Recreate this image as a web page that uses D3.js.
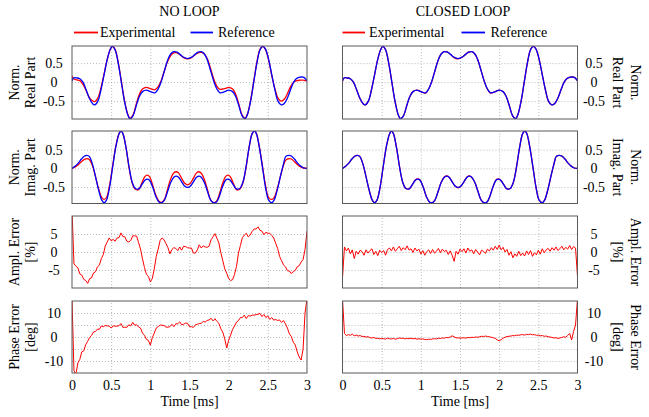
<!DOCTYPE html>
<html><head><meta charset="utf-8">
<script src="https://cdn.jsdelivr.net/npm/d3@7"></script>
<style>
html,body{margin:0;padding:0;background:#fff;}
svg{display:block;font-family:"Liberation Serif","Times New Roman",serif;}
</style></head><body>
<svg id="c" width="649" height="417"></svg>
<script>
// ---------------- DATA ----------------
const columnTitles = ["NO LOOP", "CLOSED LOOP"];
const legendLabels = ["Experimental", "Reference"];
const xTicks = [0, 0.5, 1, 1.5, 2, 2.5, 3];
const xLabel = "Time [ms]";

// Normalised real part (time in ms)
const tRe = [0,0.02,0.06,0.10,0.14,0.18,0.22,0.26,0.29,0.33,0.37,0.41,0.45,0.49,0.515,0.55,0.59,0.63,0.67,0.71,0.74,0.78,0.82,0.86,0.90,0.95,1.00,1.06,1.10,1.14,1.18,1.22,1.26,1.30,1.34,1.38,1.42,1.475,1.53,1.57,1.61,1.65,1.69,1.73,1.77,1.81,1.85,1.89,1.95,2.00,2.05,2.09,2.13,2.17,2.21,2.24,2.28,2.32,2.36,2.40,2.435,2.47,2.51,2.55,2.59,2.63,2.67,2.71,2.75,2.79,2.83,2.87,2.91,2.95,2.98,3.00];
const refRe = [0.03,0.11,0.11,0.09,0.00,-0.20,-0.42,-0.56,-0.60,-0.50,-0.20,0.20,0.60,0.87,0.94,0.85,0.50,0.0,-0.50,-0.85,-0.96,-0.88,-0.62,-0.38,-0.25,-0.21,-0.25,-0.28,-0.18,0.02,0.30,0.57,0.74,0.80,0.79,0.73,0.66,0.62,0.66,0.73,0.79,0.80,0.74,0.57,0.30,0.02,-0.18,-0.28,-0.25,-0.21,-0.25,-0.38,-0.62,-0.88,-0.96,-0.85,-0.50,0.0,0.50,0.85,0.94,0.87,0.60,0.20,-0.20,-0.50,-0.60,-0.56,-0.42,-0.20,0.00,0.10,0.13,0.13,0.09,0.03];
const expReOpen = [0.17,0.09,0.06,0.04,-0.06,-0.22,-0.40,-0.49,-0.51,-0.42,-0.15,0.22,0.60,0.87,0.94,0.86,0.52,0.02,-0.48,-0.83,-0.95,-0.86,-0.58,-0.32,-0.18,-0.14,-0.17,-0.20,-0.12,0.05,0.30,0.54,0.70,0.77,0.77,0.72,0.65,0.61,0.65,0.72,0.77,0.78,0.74,0.60,0.35,0.08,-0.11,-0.19,-0.17,-0.14,-0.18,-0.32,-0.58,-0.86,-0.95,-0.84,-0.48,0.02,0.52,0.86,0.94,0.86,0.58,0.18,-0.17,-0.42,-0.50,-0.45,-0.30,-0.12,0.00,0.04,0.05,0.05,0.04,0.03];
// closed loop: experimental coincides with the reference to within the line width
const expReClosed = [0.03,0.11,0.11,0.09,0.00,-0.20,-0.42,-0.56,-0.60,-0.50,-0.20,0.20,0.60,0.87,0.94,0.85,0.50,0.0,-0.50,-0.85,-0.96,-0.88,-0.62,-0.38,-0.25,-0.21,-0.25,-0.29,-0.18,0.02,0.30,0.57,0.74,0.80,0.79,0.73,0.65,0.61,0.66,0.73,0.79,0.80,0.74,0.57,0.30,0.02,-0.18,-0.29,-0.25,-0.21,-0.25,-0.38,-0.62,-0.88,-0.96,-0.85,-0.50,0.0,0.50,0.85,0.94,0.87,0.60,0.20,-0.20,-0.50,-0.60,-0.56,-0.42,-0.20,0.00,0.10,0.13,0.13,0.09,0.03];

// Normalised imaginary part
const tIm = [0,0.04,0.08,0.12,0.16,0.19,0.22,0.26,0.30,0.34,0.38,0.41,0.44,0.48,0.52,0.56,0.60,0.625,0.65,0.69,0.73,0.77,0.81,0.85,0.89,0.93,0.96,0.99,1.03,1.07,1.11,1.145,1.18,1.22,1.26,1.30,1.33,1.36,1.40,1.44,1.475,1.51,1.55,1.59,1.62,1.65,1.69,1.73,1.77,1.81,1.845,1.88,1.92,1.96,1.99,2.02,2.06,2.10,2.14,2.18,2.22,2.26,2.30,2.33,2.355,2.39,2.43,2.47,2.51,2.55,2.58,2.62,2.66,2.70,2.73,2.77,2.80,2.84,2.88,2.92,2.96,3.00];
const refIm = [0.0,0.06,0.14,0.25,0.33,0.35,0.32,0.12,-0.22,-0.58,-0.85,-0.92,-0.85,-0.50,0.05,0.58,0.92,1.0,0.93,0.55,0.02,-0.38,-0.54,-0.55,-0.44,-0.32,-0.29,-0.32,-0.50,-0.75,-0.90,-0.92,-0.85,-0.62,-0.38,-0.24,-0.21,-0.24,-0.36,-0.48,-0.51,-0.48,-0.36,-0.24,-0.21,-0.24,-0.38,-0.62,-0.85,-0.92,-0.90,-0.75,-0.50,-0.32,-0.29,-0.32,-0.44,-0.55,-0.54,-0.38,0.02,0.55,0.93,1.0,0.92,0.58,0.05,-0.50,-0.85,-0.92,-0.85,-0.58,-0.22,0.12,0.32,0.35,0.33,0.25,0.14,0.06,0.01,0.0];
const expImOpen = [0.0,0.04,0.10,0.18,0.24,0.26,0.24,0.08,-0.22,-0.55,-0.78,-0.83,-0.78,-0.45,0.08,0.60,0.93,1.0,0.93,0.55,0.0,-0.40,-0.56,-0.57,-0.40,-0.22,-0.18,-0.22,-0.45,-0.72,-0.88,-0.91,-0.83,-0.56,-0.28,-0.12,-0.09,-0.12,-0.27,-0.40,-0.44,-0.40,-0.26,-0.12,-0.09,-0.13,-0.30,-0.58,-0.84,-0.92,-0.88,-0.70,-0.42,-0.22,-0.18,-0.22,-0.40,-0.57,-0.56,-0.40,0.0,0.55,0.93,1.0,0.93,0.60,0.08,-0.45,-0.78,-0.83,-0.78,-0.55,-0.22,0.08,0.22,0.26,0.25,0.18,0.10,0.04,0.01,0.0];
const expImClosed = [0.0,0.06,0.14,0.25,0.33,0.35,0.32,0.12,-0.22,-0.58,-0.85,-0.92,-0.85,-0.50,0.05,0.58,0.92,1.0,0.93,0.55,0.02,-0.38,-0.54,-0.55,-0.44,-0.31,-0.28,-0.31,-0.50,-0.75,-0.90,-0.92,-0.85,-0.62,-0.37,-0.23,-0.20,-0.23,-0.36,-0.48,-0.52,-0.48,-0.36,-0.23,-0.20,-0.24,-0.38,-0.62,-0.85,-0.92,-0.90,-0.75,-0.50,-0.31,-0.28,-0.32,-0.44,-0.55,-0.54,-0.38,0.02,0.55,0.93,1.0,0.92,0.58,0.05,-0.50,-0.85,-0.92,-0.85,-0.58,-0.22,0.12,0.32,0.35,0.33,0.25,0.14,0.06,0.01,0.0];

// Error traces sampled every 0.025 ms
const tErr = [0,0.025,0.05,0.075,0.1,0.125,0.15,0.175,0.2,0.225,0.25,0.275,0.3,0.325,0.35,0.375,0.4,0.425,0.45,0.475,0.5,0.525,0.55,0.575,0.6,0.625,0.65,0.675,0.7,0.725,0.75,0.775,0.8,0.825,0.85,0.875,0.9,0.925,0.95,0.975,1,1.025,1.05,1.075,1.1,1.125,1.15,1.175,1.2,1.225,1.25,1.275,1.3,1.325,1.35,1.375,1.4,1.425,1.45,1.475,1.5,1.525,1.55,1.575,1.6,1.625,1.65,1.675,1.7,1.725,1.75,1.775,1.8,1.825,1.85,1.875,1.9,1.925,1.95,1.975,2,2.025,2.05,2.075,2.1,2.125,2.15,2.175,2.2,2.225,2.25,2.275,2.3,2.325,2.35,2.375,2.4,2.425,2.45,2.475,2.5,2.525,2.55,2.575,2.6,2.625,2.65,2.675,2.7,2.725,2.75,2.775,2.8,2.825,2.85,2.875,2.9,2.925,2.95,2.975,3];
const amplErrOpen = [12,-3.3,-3.9,-4.4,-6.1,-6.4,-7.6,-7.9,-8.7,-7.4,-7.2,-5.8,-5.5,-4.1,-3.6,-1.8,-0.7,1.7,2.8,3.9,3.1,3.5,3.0,3.9,4.0,5.3,4.3,4.2,3.0,2.8,3.2,4.5,4.5,4.4,2.6,0.8,-1.9,-4.3,-6.2,-6.8,-8.3,-7.4,-4.7,-1.3,0.8,3.2,3.9,3.4,2.3,1.2,-0.5,0.7,1.2,1.0,0.4,1.4,0.5,1.6,1.5,1.2,1.1,1.1,-0.3,-0.3,0.6,2.0,1.1,1.7,1.4,1.3,1.6,3.4,4.2,5.1,3.8,2.5,-0.2,-2.4,-4.7,-5.9,-7.4,-7.9,-7.7,-6.2,-4.0,-0.3,1.8,4.0,4.7,5.2,4.2,4.7,5.7,6.4,6.4,7.0,6.0,5.8,4.8,5.5,5.2,5.2,4.6,3.9,2.4,1.0,-1.2,-2.4,-3.6,-4.1,-5.2,-5.3,-6.0,-5.4,-5.1,-4.1,-3.8,-2.8,-2.1,0.7,5.8];
const phaseErrOpen = [16,-14,-15.5,-10.8,-9.3,-6.2,-5.8,-3.2,-1.8,-0.2,0.7,2.1,2.3,3.3,3.2,4.6,4.3,4.8,4.6,4.6,3.7,4.7,4.5,4.5,4.7,5.6,4.0,4.1,4.0,5.1,4.6,6.1,4.9,5.1,4.2,3.7,1.6,0.7,-1.0,-1.4,-3.4,-0.3,1.6,3.7,4.3,5.0,4.9,4.8,4.1,4.1,4.3,5.3,4.3,5.5,5.5,6.3,5.1,5.3,5.8,5.7,4.3,4.3,4.0,5.1,5.3,5.6,5.7,6.5,6.2,6.9,7.1,7.8,6.7,7.6,6.5,5.7,3.4,2.0,-0.8,-4.6,-1.3,0.8,3.2,4.6,6.2,6.8,8.1,8.1,9.1,7.7,8.9,8.7,9.1,9.1,9.3,9.5,9.8,8.5,9.4,8.1,8.8,7.3,8.1,7.0,7.3,6.9,7.1,6.1,6.9,5.5,3.7,1.3,0.2,-2.2,-3.3,-6.2,-8.3,-9.6,-5.0,10,16];
const amplErrClosed = [-7.2,1.4,0.3,1.1,-0.5,0.6,-1.8,0.2,-0.6,0.5,0.1,-0.9,0.6,-0.3,0.4,0.9,-0.7,0.2,-1.0,0.5,-0.2,0.4,-0.9,0.7,1.1,0.3,1.4,0.2,0.9,1.6,0.4,1.2,0.6,1.7,0.5,0.9,-0.1,1.1,0.3,0.8,-0.6,0.4,-0.9,0.1,0.6,-0.4,0.7,-0.3,0.2,1.0,-0.2,0.8,0.1,0.5,-0.7,0.3,-0.9,-2.6,0.2,-0.6,0.8,0.1,0.9,-0.3,1.1,0.2,0.6,-0.5,0.7,0.0,-0.8,0.5,0.2,-0.4,0.8,0.3,1.2,0.5,1.6,0.7,1.9,0.6,1.3,0.0,0.7,-0.9,0.1,-1.6,-0.5,-1.2,0.2,-1.0,-0.3,-1.1,0.3,-0.7,0.4,-1.2,-0.2,-0.8,0.5,-0.6,0.9,-0.2,0.6,1.0,0.2,1.2,0.5,1.4,0.4,0.9,1.6,0.6,1.3,0.8,1.8,0.7,1.5,1.1,-6.8];
const phaseErrClosed = [16,1.5,0.6,1.0,0.7,1.2,0.5,0.8,0.4,0.6,0.2,0.3,-0.1,0.2,-0.3,-0.4,-0.2,-0.6,-0.5,-0.8,-0.6,-0.7,-0.9,-0.5,-0.7,-0.8,-0.6,-0.9,-0.7,-0.4,-0.6,-0.5,-0.8,-0.6,-0.7,-0.5,-0.8,-0.6,-0.9,-0.7,-0.9,-0.8,-1.0,-1.1,-0.9,-1.0,-0.8,-0.7,-0.8,-0.5,-0.6,-0.4,-0.5,-0.2,-0.3,0.0,0.5,0.1,-0.4,-0.3,-0.5,-0.4,-0.3,-0.5,-0.2,-0.3,-0.1,-0.2,0.0,-0.1,0.1,0.3,0.2,0.4,0.2,0.1,-0.1,-0.3,-0.6,-1.2,-1.6,-1.1,-0.5,-0.1,0.2,0.3,0.4,0.6,0.5,0.8,0.7,0.9,1.0,0.8,1.1,1.0,1.2,0.9,1.0,0.7,0.8,0.5,0.6,0.3,0.4,0.1,0.0,-0.2,-0.4,-0.3,-0.6,-0.4,-0.2,0.1,-0.1,0.6,1.5,-1.2,2.3,5.0,16];

// Y axis ticks / titles
const reTicks = [-0.5, 0, 0.5];
const imTicks = [-0.5, 0, 0.5];
const amplTicks = [-5, 0, 5];
const phaseTicks = [-10, 0, 10];
const phaseGrid = [-10, -5, 0, 5, 10];

// ---------------- LAYOUT ----------------
const svg = d3.select('#c');
const RED = '#ff0000', BLUE = '#0000ff';
const FONT = '"Liberation Serif","Times New Roman",serif';
const colX = [72, 342.5];
const pw = 235;
const rowY = [[46,119],[131,203.5],[216,288],[301,373]];

const rows = [
  {dom:[-0.97,0.95], ticks:reTicks, grid:reTicks, title:['Norm.','Real Part'], curve:d3.curveCatmullRom, sw:1.3,
   series:[[[tRe,expReOpen,RED],[tRe,refRe,BLUE]], [[tRe,expReClosed,RED],[tRe,refRe,BLUE]]]},
  {dom:[-0.94,1.0], ticks:imTicks, grid:imTicks, title:['Norm.','Imag. Part'], curve:d3.curveCatmullRom, sw:1.3,
   series:[[[tIm,expImOpen,RED],[tIm,refIm,BLUE]], [[tIm,expImClosed,RED],[tIm,refIm,BLUE]]]},
  {dom:[-10,10], ticks:amplTicks, grid:amplTicks, title:['Ampl. Error','[%]'], curve:d3.curveLinear, sw:1.0,
   series:[[[tErr,amplErrOpen,RED]], [[tErr,amplErrClosed,RED]]]},
  {dom:[-15,15], ticks:phaseTicks, grid:phaseGrid, title:['Phase Error','[deg]'], curve:d3.curveLinear, sw:1.0,
   series:[[[tErr,phaseErrOpen,RED]], [[tErr,phaseErrClosed,RED]]]}
];

const defs = svg.append('defs');

rows.forEach((row, ri) => {
  const [y0, y1] = rowY[ri];
  const ph = y1 - y0;
  [0,1].forEach(ci => {
    const x0 = colX[ci];
    const x = d3.scaleLinear().domain([0,3]).range([x0, x0 + pw]);
    const y = d3.scaleLinear().domain(row.dom).range([y1, y0]);
    const g = svg.append('g');
    // grid
    const gx = g.append('g').attr('transform', `translate(0,${y1})`)
      .call(d3.axisBottom(x).tickValues([0.5,1,1.5,2,2.5]).tickSize(-ph).tickFormat(''));
    gx.select('.domain').remove();
    const gy = g.append('g').attr('transform', `translate(${x0},0)`)
      .call(d3.axisLeft(y).tickValues(row.grid).tickSize(-pw).tickFormat(''));
    gy.select('.domain').remove();
    g.selectAll('.tick line').attr('stroke', '#a8a8a8').attr('stroke-width', 0.8).attr('stroke-dasharray', '1,2');

    // clip
    const cid = `clip${ri}${ci}`;
    defs.append('clipPath').attr('id', cid).append('rect')
      .attr('x', x0).attr('y', y0).attr('width', pw).attr('height', ph);
    const line = d3.line().x(d => x(d[0])).y(d => y(d[1])).curve(row.curve);
    const cg = g.append('g').attr('clip-path', `url(#${cid})`);
    row.series[ci].forEach(([t, v, col]) => {
      cg.append('path').datum(d3.zip(t, v)).attr('d', line)
        .attr('fill', 'none').attr('stroke', col).attr('stroke-width', row.sw)
        .attr('stroke-linejoin', 'round');
    });

    // frame
    g.append('rect').attr('x', x0).attr('y', y0).attr('width', pw).attr('height', ph)
      .attr('fill', 'none').attr('stroke', '#5a5a5a').attr('stroke-width', 1);

    // y tick labels
    const ax = ci === 0 ? d3.axisLeft(y) : d3.axisRight(y);
    const ya = g.append('g').attr('transform', `translate(${ci === 0 ? x0 : x0 + pw},0)`)
      .call(ax.tickValues(row.ticks).tickSize(0).tickFormat(d => String(d)));
    ya.select('.domain').remove();
    ya.attr('font-family', FONT).attr('font-size', 14);
    ya.selectAll('text').attr('x', ci === 0 ? -18 : 16.5).attr('text-anchor', 'middle')
      .attr('fill', '#000').attr('dy', '0.33em');

    // y titles
    const cy = (y0 + y1) / 2;
    if (ci === 0) {
      [[14, row.title[0]], [30, row.title[1]]].forEach(([cx, s]) => {
        g.append('text').attr('transform', `translate(${cx},${cy}) rotate(-90)`)
          .attr('text-anchor', 'middle').attr('dominant-baseline', 'central')
          .attr('font-family', FONT).attr('font-size', 14).text(s);
      });
    } else {
      [[635, row.title[0]], [617, row.title[1]]].forEach(([cx, s]) => {
        g.append('text').attr('transform', `translate(${cx},${cy}) rotate(90)`)
          .attr('text-anchor', 'middle').attr('dominant-baseline', 'central')
          .attr('font-family', FONT).attr('font-size', 14).text(s);
      });
    }

    // x axis on bottom row
    if (ri === 3) {
      const xa = g.append('g').attr('transform', `translate(0,${y1})`)
        .call(d3.axisBottom(x).tickValues(xTicks).tickSize(0).tickFormat(d => String(d)));
      xa.select('.domain').remove();
      xa.attr('font-family', FONT).attr('font-size', 14);
      xa.selectAll('text').attr('y', 16.5).attr('dy', 0).attr('fill', '#000');
      g.append('text').attr('x', x0 + pw / 2).attr('y', 405.5).attr('text-anchor', 'middle')
        .attr('font-family', FONT).attr('font-size', 14).text(xLabel);
    }
  });
});

// Column titles and legends
const legendPos = [
  {title: 189.5, l1:[74,98], t1:100, l2:[190.5,213], t2:218},
  {title: 463, l1:[342.5,365], t1:369, l2:[461.5,485], t2:490.5}
];
legendPos.forEach((p, ci) => {
  svg.append('text').attr('x', p.title).attr('y', 16).attr('text-anchor', 'middle')
    .attr('font-family', FONT).attr('font-size', 14).text(columnTitles[ci]);
  svg.append('line').attr('x1', p.l1[0]).attr('x2', p.l1[1]).attr('y1', 32.5).attr('y2', 32.5)
    .attr('stroke', RED).attr('stroke-width', 1.8);
  svg.append('text').attr('x', p.t1).attr('y', 37).attr('font-family', FONT).attr('font-size', 14).text(legendLabels[0]);
  svg.append('line').attr('x1', p.l2[0]).attr('x2', p.l2[1]).attr('y1', 32.5).attr('y2', 32.5)
    .attr('stroke', BLUE).attr('stroke-width', 1.8);
  svg.append('text').attr('x', p.t2).attr('y', 37).attr('font-family', FONT).attr('font-size', 14).text(legendLabels[1]);
});
</script>
</body></html>
